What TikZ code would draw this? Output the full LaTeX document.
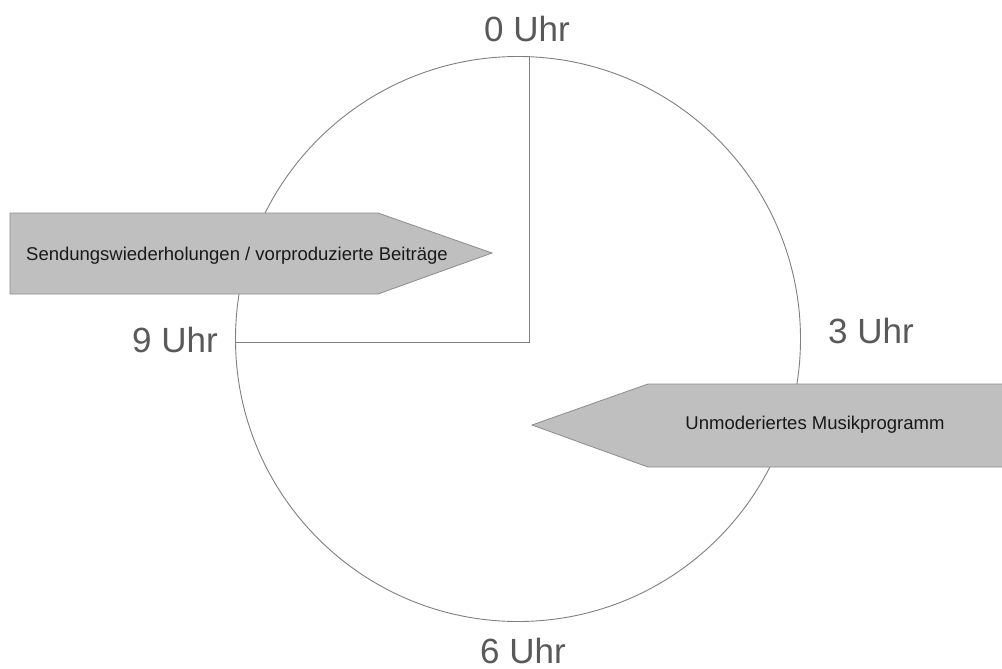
\documentclass[tikz,border=0pt]{standalone}
\usepackage{fontspec}
\setmainfont{Liberation Sans}
\begin{document}
\begin{tikzpicture}[x=1pt,y=-1pt,
  rim/.style={draw=black!50, line width=0.9pt},
  hand/.style={draw=black!50, line width=0.9pt},
  banner/.style={fill=black!25, draw=black!45, line width=0.8pt},
  hour/.style={font=\fontsize{35}{40}\selectfont, text=black!65, inner sep=0pt},
  bannertext/.style={font=\fontsize{18.5}{21}\selectfont, text=black!90, inner sep=0pt}]
\useasboundingbox (0,0) rectangle (1002,669);
\fill[white] (0,0) rectangle (1002,669);
% clock face
\node[circle, rim, minimum size=565pt, inner sep=0pt] (clock) at (518,339) {};
\coordinate (corner) at (529,342);
\coordinate (noon) at (corner |- clock.north);
\coordinate (nine) at (clock.west |- corner);
\draw[hand] (noon) -- (corner) -- (nine);
% hour labels
\node[hour, anchor=base] (h0) at (527,42) {0 Uhr};
\node[hour, anchor=base east] (h9) at (218,352) {9 Uhr};
\node[hour, anchor=base west] (h3) at (828,343) {3 Uhr};
\node[hour, anchor=base] (h6) at (523,663) {6 Uhr};
% left banner
\draw[banner] (10,213) -- (378,213) -- (492,253) -- (378,294) -- (10,294) -- cycle;
\node[bannertext] (wdh) at (237,256) {Sendungswiederholungen / vorproduzierte Beiträge};
% right banner
\draw[banner] (1012,384) -- (648,384) -- (532,425) -- (648,467) -- (1012,467) -- cycle;
\node[bannertext] (musik) at (815,425) {Unmoderiertes Musikprogramm};
\end{tikzpicture}
\end{document}
